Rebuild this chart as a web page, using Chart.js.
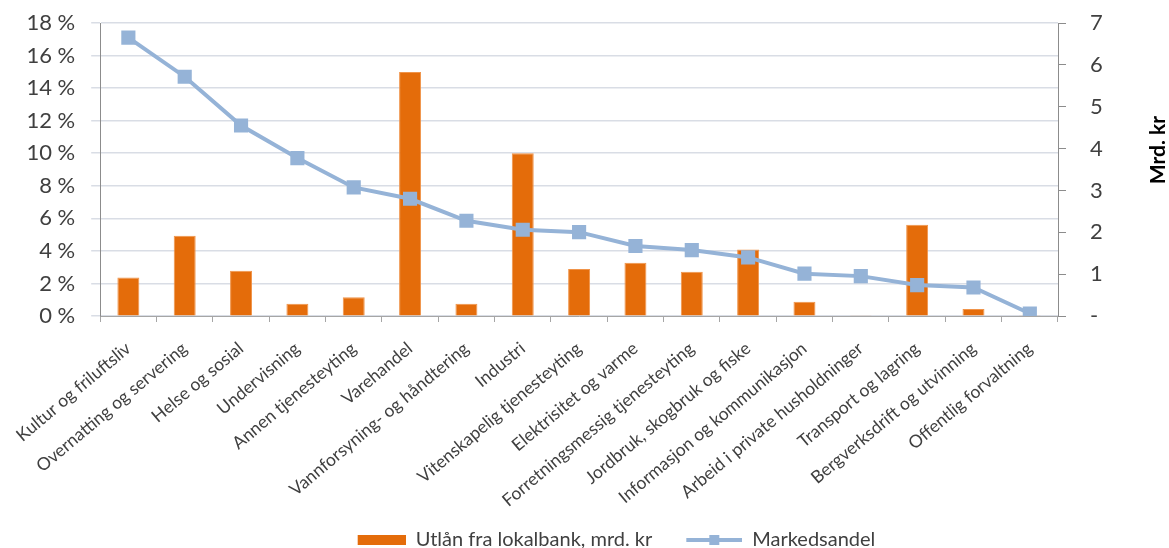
<!DOCTYPE html>
<html lang="no">
<head>
<meta charset="utf-8">
<title>Utlån og markedsandel per næring</title>
<script src="https://cdn.jsdelivr.net/npm/chart.js@4"></script>
<style>
  html, body { margin: 0; padding: 0; background: #fff; }
  #wrap { position: relative; width: 1169px; height: 548px; }
</style>
</head>
<body>
<div id="wrap"><canvas id="chart"></canvas></div>
<script>
// næringer, sortert etter markedsandel
const categories = [
  'Kultur og friluftsliv',
  'Overnatting og servering',
  'Helse og sosial',
  'Undervisning',
  'Annen tjenesteyting',
  'Varehandel',
  'Vannforsyning- og håndtering',
  'Industri',
  'Vitenskapelig tjenesteyting',
  'Elektrisitet og varme',
  'Forretningsmessig tjenesteyting',
  'Jordbruk, skogbruk og fiske',
  'Informasjon og kommunikasjon',
  'Arbeid i private husholdninger',
  'Transport og lagring',
  'Bergverksdrift og utvinning',
  'Offentlig forvaltning'
];

// utlån fra lokalbank, mrd. kr (høyre akse)
const loans = [0.92, 1.92, 1.08, 0.29, 0.45, 5.83, 0.29, 3.89, 1.12, 1.27, 1.06, 1.59, 0.34, 0.02, 2.18, 0.17, 0.02];

// markedsandel i prosent (venstre akse)
const marketShare = [17.1, 14.7, 11.7, 9.7, 7.9, 7.2, 5.85, 5.3, 5.15, 4.3, 4.05, 3.6, 2.6, 2.45, 1.9, 1.75, 0.15];

const shareTicks = [0, 2, 4, 6, 8, 10, 12, 14, 16, 18];
const loanTicks = [0, 1, 2, 3, 4, 5, 6, 7];

const barColor = '#E46C0A';
const lineColor = '#95B3D7';
const textColor = '#404040';
const font = 'Lato, "Open Sans", sans-serif';

// små ikoner til forklaringen, høyrejustert i en 80 px bred boks
function barIcon() {
  const c = document.createElement('canvas');
  c.width = 80; c.height = 10;
  const g = c.getContext('2d');
  g.fillStyle = barColor;
  g.fillRect(32, 0, 48, 10);
  return c;
}

function lineIcon() {
  const c = document.createElement('canvas');
  c.width = 80; c.height = 12;
  const g = c.getContext('2d');
  g.strokeStyle = lineColor;
  g.lineWidth = 4;
  g.beginPath();
  g.moveTo(24, 6);
  g.lineTo(80, 6);
  g.stroke();
  g.fillStyle = lineColor;
  g.fillRect(47, 1, 10, 10);
  return c;
}

// aksetittel på høyre side, lest nedenfra og opp
const rightTitle = {
  id: 'rightTitle',
  afterDraw(chart) {
    const s = chart.scales.yLoans;
    const ctx = chart.ctx;
    ctx.save();
    ctx.translate(s.right - 11, chart.chartArea.top + 127);
    ctx.rotate(-Math.PI / 2);
    ctx.font = 'bold 21px ' + font;
    ctx.fillStyle = '#000';
    ctx.textAlign = 'center';
    ctx.textBaseline = 'middle';
    ctx.fillText('Mrd. kr', 0, 0);
    ctx.restore();
  }
};

// flytter forklaringen litt til høyre og ned
const legendShift = {
  id: 'legendShift',
  afterLayout(chart) {
    const l = chart.legend;
    l.left += 16; l.right += 16;
    l.top += 12; l.bottom += 12;
  }
};

// y-aksene skal ikke skyve plottet ned for å gi plass til øverste etikett
function fixYAxis(width) {
  return scale => {
    scale.width = width;
    scale.paddingTop = 0;
    scale.paddingBottom = 0;
  };
}

const ctx = document.getElementById('chart').getContext('2d');
new Chart(ctx, {
  data: {
    labels: categories,
    datasets: [{
      type: 'line',
      label: 'Markedsandel',
      data: marketShare,
      yAxisID: 'yShare',
      order: 0,
      borderColor: lineColor,
      backgroundColor: lineColor,
      borderWidth: 4,
      tension: 0,
      pointStyle: 'rect',
      pointRadius: 10,
      pointBorderWidth: 0,
      pointBackgroundColor: lineColor
    }, {
      type: 'bar',
      label: 'Utlån fra lokalbank, mrd. kr',
      data: loans,
      yAxisID: 'yLoans',
      order: 1,
      backgroundColor: barColor,
      borderColor: '#F0944A',
      borderWidth: 1,
      categoryPercentage: 1,
      barPercentage: 0.39
    }]
  },
  options: {
    responsive: true,
    maintainAspectRatio: false,
    animation: false,
    layout: { padding: { top: 23, left: 0, right: 0, bottom: 0 } },
    scales: {
      x: {
        offset: true,
        grid: { offset: true, drawOnChartArea: false, tickLength: 6, color: '#A6A6A6' },
        border: { color: '#A6A6A6' },
        ticks: {
          autoSkip: false,
          minRotation: 40,
          maxRotation: 40,
          padding: 16,
          color: textColor,
          font: { family: font, size: 17.5 }
        },
        afterFit(scale) {
          scale.height = scale.chart.height - 316 - scale.chart.legend.height;
        }
      },
      yShare: {
        position: 'left',
        min: 0,
        max: 18,
        afterBuildTicks(scale) { scale.ticks = shareTicks.map(v => ({ value: v })); },
        grid: { color: '#D9DDE5', lineWidth: 1.5, tickLength: 9 },
        border: { color: '#8C8C8C' },
        ticks: {
          padding: 16,
          color: textColor,
          font: { family: font, size: 22 },
          callback: v => v + ' %'
        },
        afterFit: fixYAxis(99)
      },
      yLoans: {
        position: 'right',
        min: 0,
        max: 7,
        afterBuildTicks(scale) { scale.ticks = loanTicks.map(v => ({ value: v })); },
        grid: { drawOnChartArea: false, tickLength: 8, color: '#8C8C8C' },
        border: { color: '#8C8C8C' },
        ticks: {
          padding: 24,
          color: textColor,
          font: { family: font, size: 22 },
          callback: v => v === 0 ? '-' : v
        },
        afterFit: fixYAxis(111)
      }
    },
    plugins: {
      tooltip: { enabled: false },
      legend: {
        position: 'bottom',
        labels: {
          usePointStyle: true,
          pointStyleWidth: 80,
          padding: 10,
          font: { family: font, size: 20 },
          color: textColor,
          generateLabels: () => [
            { text: 'Utlån fra lokalbank, mrd. kr', pointStyle: barIcon(), fillStyle: barColor,
              strokeStyle: barColor, lineWidth: 0, hidden: false, datasetIndex: 1, fontColor: textColor },
            { text: 'Markedsandel', pointStyle: lineIcon(), fillStyle: lineColor,
              strokeStyle: lineColor, lineWidth: 0, hidden: false, datasetIndex: 0, fontColor: textColor }
          ]
        }
      }
    }
  },
  plugins: [rightTitle, legendShift]
});
</script>
</body>
</html>
